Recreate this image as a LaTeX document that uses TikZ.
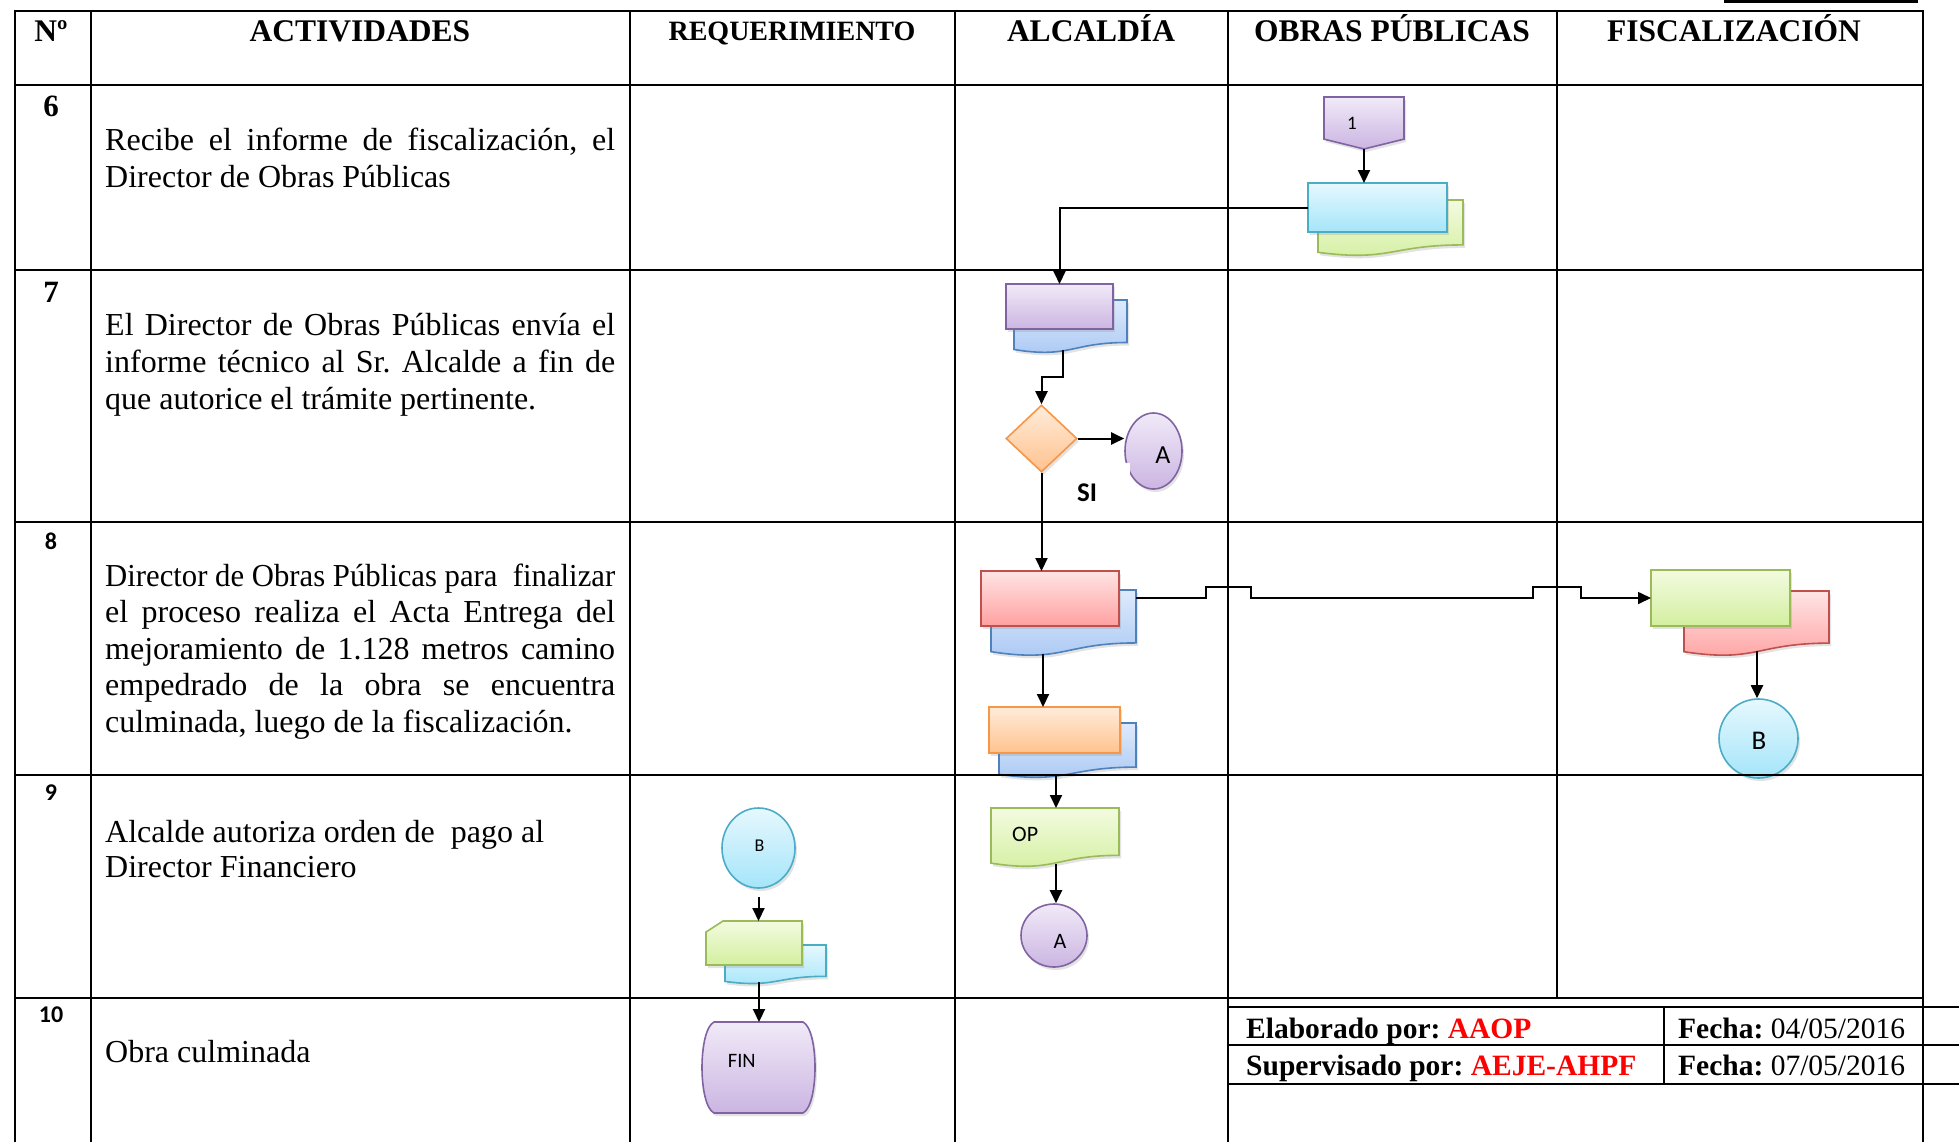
\documentclass[tikz,border=0pt]{standalone}
\usepackage{fontspec}
\usepackage{graphicx}
\setmainfont{Liberation Serif}
\newfontfamily\calib{Carlito}
\usetikzlibrary{shapes.geometric, arrows.meta, calc, shadows}
\frenchspacing

% fill colours (top / bottom / border)
\definecolor{purT}{HTML}{F1EAF8}\definecolor{purB}{HTML}{CBB5E2}\definecolor{purD}{HTML}{8064A2}
\definecolor{cyaT}{HTML}{E6F8FE}\definecolor{cyaB}{HTML}{A5E5FA}\definecolor{cyaD}{HTML}{4BACC6}
\definecolor{greT}{HTML}{F3FBE0}\definecolor{greB}{HTML}{D3EF9F}\definecolor{greD}{HTML}{9BBB59}
\definecolor{bluT}{HTML}{DEEAFC}\definecolor{bluB}{HTML}{A8C7F3}\definecolor{bluD}{HTML}{4F81BD}
\definecolor{redT}{HTML}{FFE4E4}\definecolor{redB}{HTML}{FFA0A0}\definecolor{redD}{HTML}{C0504D}
\definecolor{oraT}{HTML}{FFECDA}\definecolor{oraB}{HTML}{FFC28E}\definecolor{oraD}{HTML}{F79646}

\tikzset{
  grid/.style={line width=2.4pt, line cap=rect},
  arr/.style={line width=2pt, -{Triangle[length=13pt,width=12pt]}},
  hop/.style={line width=1.6pt, -{Triangle[length=13pt,width=12pt]}},
  shadowed/.style={drop shadow={shadow xshift=2pt, shadow yshift=-3pt, opacity=.22}},
  fpur/.style={top color=purT, bottom color=purB, draw=purD, line width=1.6pt},
  fcya/.style={top color=cyaT, bottom color=cyaB, draw=cyaD, line width=1.6pt},
  fgre/.style={top color=greT, bottom color=greB, draw=greD, line width=1.6pt},
  fblu/.style={top color=bluT, bottom color=bluB, draw=bluD, line width=1.6pt},
  fred/.style={top color=redT, bottom color=redB, draw=redD, line width=1.6pt},
  fora/.style={top color=oraT, bottom color=oraB, draw=oraD, line width=1.6pt},
  frame/.style={rectangle, inner sep=0pt, outer sep=0pt, draw=none},
  box/.style={rectangle, inner sep=0pt, outer sep=0pt},
  act/.style={anchor=base west, inner sep=0pt, font=\fontsize{32}{36}\selectfont},
  hdr/.style={anchor=base, inner sep=0pt, font=\bfseries\fontsize{31.5}{36}\selectfont},
  numserif/.style={anchor=base, inner sep=0pt, font=\bfseries\fontsize{31}{36}\selectfont},
  numsans/.style={anchor=base, inner sep=0pt, font=\calib\bfseries\fontsize{24}{28}\selectfont},
  lbl/.style={inner sep=0pt, font=\calib\fontsize{#1}{#1}\selectfont},
  sign/.style={anchor=base west, inner sep=0pt, font=\fontsize{29.5}{34}\selectfont},
}

% document symbol with a wavy lower edge: name, style, x0, y0, x1, y1
\newcommand\docshape[6]{%
  \node[frame, minimum width={(#5)-(#3)}, minimum height={(#6)-(#4)}] (#1) at ({((#3)+(#5))/2},{((#4)+(#6))/2}) {};
  \path[#2] (#1.north west) -- (#1.north east) -- ($(#1.north east)!0.802!(#1.south east)$)
    .. controls ($(#1.north)!0.802!(#1.south)$) and ($(#1.north)!1.107!(#1.south)$) ..
    ($(#1.north west)!0.934!(#1.south west)$) -- cycle;}

\begin{document}
\begin{tikzpicture}[x=1pt, y=-1pt]
\useasboundingbox (0,0) rectangle (1959,1141);
\fill[white] (0,0) rectangle (1959,1141);

% ---------- row 6: Obras Publicas ----------
\node[frame, minimum width=80, minimum height=52] (c1) at (1364,123) {};
\path[fpur, shadowed] (c1.north west) -- (c1.north east) -- ($(c1.north east)!0.81!(c1.south east)$)
  -- (c1.south) -- ($(c1.north west)!0.81!(c1.south west)$) -- cycle;
\node[lbl=19, anchor=base] (c1t) at (1352,129) {1};
\docshape{d1}{fgre, shadowed}{1318}{200}{1463}{256}
\node[box, fcya, shadowed, minimum width=139, minimum height=49] (r1) at (1377.5,207.5) {};

% ---------- row 7: Alcaldia ----------
\docshape{d2}{fblu, shadowed}{1014}{300}{1127}{353}
\node[box, fpur, shadowed, minimum width=107, minimum height=45] (r2) at (1059.5,306.5) {};
\node[diamond, fora, shadowed, inner sep=0pt, minimum width=71, minimum height=67] (dia) at (1041.5,438.5) {};
\node[ellipse, fpur, shadowed, inner sep=0pt, minimum width=57, minimum height=76] (A1) at (1153.5,451) {};
\node[lbl=26, anchor=base] (A1t) at (1163,463.5) {A};
\node[box, fill=white, minimum width=75, minimum height=60, anchor=north west] (sibg) at (1055,463) {};
\node[inner sep=0pt, anchor=base, font=\calib\bfseries\fontsize{27}{27}\selectfont] (si) at (1087,501.7) {SI};

% ---------- row 8: Alcaldia and Fiscalizacion ----------
\docshape{d3}{fblu, shadowed}{991}{590}{1136}{656}
\node[box, fred, shadowed, minimum width=138, minimum height=55] (r3) at (1050,598.5) {};
\docshape{d4}{fblu, shadowed}{999}{723}{1136}{778}
\node[box, fora, shadowed, minimum width=131, minimum height=46] (r4) at (1054.5,730) {};
\docshape{d5}{fred, shadowed}{1684}{591}{1829}{656}
\node[box, fgre, shadowed, minimum width=139, minimum height=56] (g1) at (1720.5,598) {};
\node[circle, fcya, shadowed, inner sep=0pt, minimum size=79] (B1) at (1758.5,738.5) {};
\node[lbl=27, anchor=base] (B1t) at (1759,749) {B};

% ---------- row 9 ----------
\docshape{op}{fgre, shadowed}{991}{808}{1119}{867}
\node[lbl=22, anchor=base west] (opt) at (1012,841.7) {OP};
\node[ellipse, fpur, shadowed, inner sep=0pt, minimum width=66, minimum height=63] (A2) at (1054,935.5) {};
\node[lbl=22, anchor=base] (A2t) at (1060,948.5) {A};

\node[ellipse, fcya, shadowed, inner sep=0pt, minimum width=73, minimum height=80] (B2) at (758.5,848) {};
\node[lbl=18, anchor=base] (B2t) at (759.5,851.7) {B};
\docshape{d6}{fcya, shadowed}{725}{945}{826}{984}
\node[frame, minimum width=96, minimum height=44] (cd) at (754,943) {};
\path[fgre, shadowed] ($(cd.north west)+(0,11)$) -- ($(cd.north west)+(17,0)$) -- (cd.north east)
  -- (cd.south east) -- (cd.south west) -- cycle;

% ---------- row 10 ----------
\node[frame, minimum width=113, minimum height=91] (fin) at (758.5,1067.5) {};
\path[fpur, shadowed] ($(fin.north west)+(12,0)$) -- ($(fin.north east)+(-12,0)$)
  .. controls ($(fin.north east)+(4,8)$) and ($(fin.south east)+(4,-8)$) .. ($(fin.south east)+(-12,0)$)
  -- ($(fin.south west)+(12,0)$)
  .. controls ($(fin.south west)+(-4,-8)$) and ($(fin.north west)+(-4,8)$) .. cycle;
\node[lbl=20.5, anchor=base west] (fint) at (727.7,1067) {FIN};

% ---------- connectors ----------
\coordinate (d2o) at (1063,350);
\coordinate (d3o) at (1043,654);
\coordinate (d3r) at (1136,598);
\coordinate (d4o) at (1056,776);
\coordinate (opo) at (1056,864);
\coordinate (d5o) at (1757,651);
\coordinate (d6o) at (759,982);
\draw[arr] (c1.south) -- (c1.south |- r1.north);
\draw[arr] (r1.west) -| (r2.north);
\draw[arr] (d2o) -- ++(0,27) -| (dia.north);
\draw[arr] (dia.east) -- (dia.east -| A1.west);
\draw[arr] (dia.south) -- (dia.south |- r3.north);
\draw[arr] (d3o) -- (d3o |- r4.north);
\draw[hop] (d3r) -- (1206,598) -- ++(0,-11) -- ++(45,0) -- ++(0,11) -- (1533,598)
  -- ++(0,-11) -- ++(48,0) -- ++(0,11) -- (g1.west);
\draw[arr] (d4o) -- (d4o |- op.north);
\draw[arr] (opo) -- (opo |- A2.north);
\draw[arr] (d5o) -- (d5o |- B1.north);
\draw[arr, shorten <=8pt] (B2.south) -- (B2.south |- cd.north);
\draw[arr] (d6o) -- (d6o |- fin.north);

% ---------- table ----------
\draw[grid] (15,11) -- (1923,11);
\foreach \yy in {85,270,522,775,998} \draw[grid] (15,\yy) -- (1923,\yy);
\foreach \xx in {15,91,630,955,1228,1923} \draw[grid] (\xx,11) -- (\xx,1141);
\draw[grid] (1557,11) -- (1557,998);
\foreach \yy in {1007,1045,1084} \draw[grid] (1230,\yy) -- (1959,\yy);
\draw[grid] (1664,1007) -- (1664,1084);
\draw[line width=3pt] (1724,1.5) -- (1918,1.5);

% headings
\node[hdr] (hn) at (51,41.5) {Nº};
\node[hdr] (ha) at (360,41.5) {ACTIVIDADES};
\node[hdr, font=\bfseries\fontsize{28}{32}\selectfont] (hr) at (792,40) {REQUERIMIENTO};
\node[hdr] (hal) at (1091,41.5) {ALCALDÍA};
\node[hdr] (hop) at (1392,41.5) {OBRAS PÚBLICAS};
\node[hdr] (hf) at (1734,41.5) {FISCALIZACIÓN};

% step numbers
\node[numserif] (n6) at (51,116.5) {6};
\node[numserif] (n7) at (51,302) {7};
\node[numsans] (n8) at (51,549) {8};
\node[numsans] (n9) at (51,800.5) {9};
\node[numsans] (n10) at (51,1022.5) {10};

% activities
\node[act] (t6a) at (105,150) {\makebox[510pt][s]{Recibe el informe de fiscalización, el}};
\node[act] (t6b) at (105,187) {Director de Obras Públicas};
\node[act] (t7a) at (105,335) {\makebox[510pt][s]{El Director de Obras Públicas envía el}};
\node[act] (t7b) at (105,372) {\makebox[510pt][s]{informe técnico al Sr. Alcalde a fin de}};
\node[act] (t7c) at (105,409) {que autorice el trámite pertinente.};
\node[act] (t8a) at (105,586) {\resizebox{510pt}{\height}{Director de Obras Públicas para\ \ finalizar}};
\node[act] (t8b) at (105,622.5) {\makebox[510pt][s]{el proceso realiza el Acta Entrega del}};
\node[act] (t8c) at (105,659) {\makebox[510pt][s]{mejoramiento de 1.128 metros camino}};
\node[act] (t8d) at (105,695.5) {\makebox[510pt][s]{empedrado de la obra se encuentra}};
\node[act] (t8e) at (105,732) {culminada, luego de la fiscalización.};
\node[act] (t9a) at (105,842) {Alcalde autoriza orden de\ \ pago al};
\node[act] (t9b) at (105,877) {Director Financiero};
\node[act] (t10) at (105,1062) {Obra culminada};

% sign-off block
\node[sign] (el) at (1246,1038) {\textbf{Elaborado por: \textcolor{red}{AAOP}}};
\node[sign] (su) at (1246,1075) {\textbf{Supervisado por: \textcolor{red}{AEJE-AHPF}}};
\node[sign] (f1) at (1678,1038) {\textbf{Fecha:} 04/05/2016};
\node[sign] (f2) at (1678,1075) {\textbf{Fecha:} 07/05/2016};
\end{tikzpicture}
\end{document}
